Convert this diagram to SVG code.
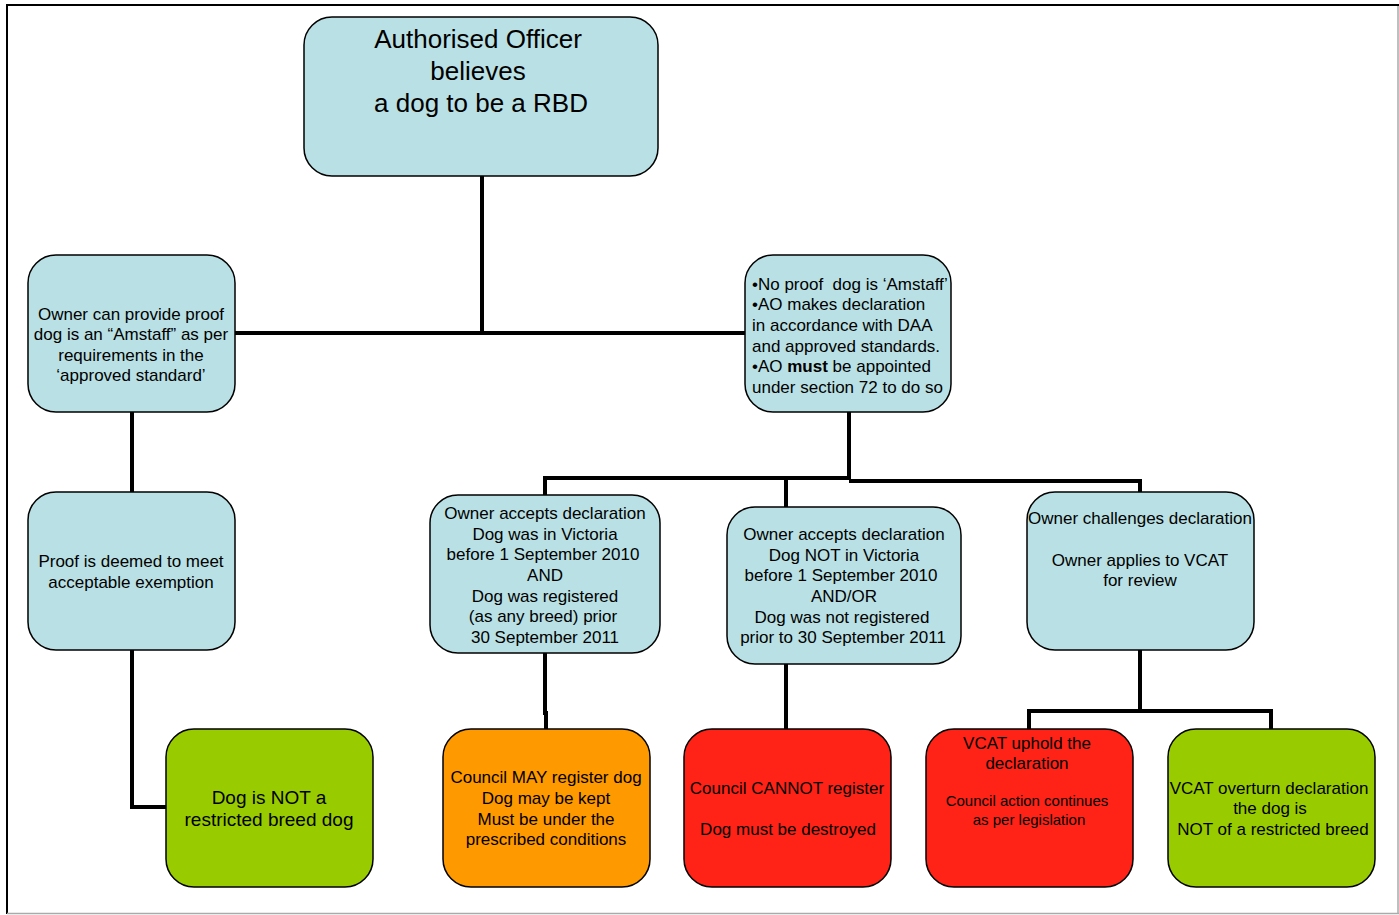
<svg xmlns="http://www.w3.org/2000/svg" width="1399" height="915" viewBox="0 0 1399 915">
<style>
.box{stroke:#000;stroke-width:1.5}
.blue{fill:#b9e0e4}
.green{fill:#99cc00}
.orange{fill:#ff9900}
.red{fill:#ff2317}
text{font-family:"Liberation Sans",Arial,sans-serif;font-size:17px;fill:#000;text-anchor:middle}
.big{font-size:26px}
.mid{font-size:19px}
.small{font-size:15px}
.left{text-anchor:start}
.conn{stroke:#000;stroke-width:4;fill:none;stroke-linejoin:miter}
</style>
<rect width="1399" height="915" fill="#fff"/>
<g id="frame">
<line x1="7" y1="5" x2="1399" y2="5" stroke="#000" stroke-width="2"/>
<line x1="7" y1="4" x2="7" y2="914" stroke="#000" stroke-width="2"/>
<line x1="1398" y1="6" x2="1398" y2="914" stroke="#aaa" stroke-width="1.5"/>
<line x1="7" y1="913.5" x2="1399" y2="913.5" stroke="#aaa" stroke-width="1.5"/>
</g>
<g id="connectors">
<path class="conn" d="M482 176 V333"/>
<path class="conn" d="M235 333 H745"/>
<path class="conn" d="M132 412 V492"/>
<path class="conn" d="M132 650 V807 H166"/>
<path class="conn" d="M849 412 V479"/>
<path class="conn" d="M545 495 V478 H849"/>
<path class="conn" d="M849 481 H1140 V492"/>
<path class="conn" d="M786 478 V507"/>
<path class="conn" d="M545 653 V713 H546 V729"/>
<path class="conn" d="M786 664 V729"/>
<path class="conn" d="M1140 650 V711"/>
<path class="conn" d="M1029 729 V711 H1271 V729"/>
</g>
<g id="n-top">
<rect class="box blue" x="304" y="17" width="354" height="159" rx="28"/>
<text class="big" x="478" y="48">Authorised Officer</text>
<text class="big" x="478" y="80">believes</text>
<text class="big" x="481" y="112">a dog to be a RBD</text>
</g>
<g id="n-proof">
<rect class="box blue" x="28" y="255" width="207" height="157" rx="28"/>
<text x="131" y="320">Owner can provide proof</text>
<text x="131" y="340">dog is an “Amstaff” as per</text>
<text x="131" y="361">requirements in the</text>
<text x="131" y="381">‘approved standard’</text>
</g>
<g id="n-noproof">
<rect class="box blue" x="745" y="255" width="206" height="157" rx="28"/>
<text class="left" x="752" y="290" xml:space="preserve">•No proof  dog is ‘Amstaff’</text>
<text class="left" x="752" y="310">•AO makes declaration</text>
<text class="left" x="752" y="331">in accordance with DAA</text>
<text class="left" x="752" y="352">and approved standards.</text>
<text class="left" x="752" y="372">•AO <tspan font-weight="bold">must</tspan> be appointed</text>
<text class="left" x="752" y="393">under section 72 to do so</text>
</g>
<g id="n-exempt">
<rect class="box blue" x="28" y="492" width="207" height="158" rx="28"/>
<text x="131" y="567">Proof is deemed to meet</text>
<text x="131" y="588">acceptable exemption</text>
</g>
<g id="n-accept1">
<rect class="box blue" x="430" y="495" width="230" height="158" rx="28"/>
<text x="545" y="519">Owner accepts declaration</text>
<text x="545" y="540">Dog was in Victoria</text>
<text x="543" y="560">before 1 September 2010</text>
<text x="545" y="581">AND</text>
<text x="545" y="602">Dog was registered</text>
<text x="543" y="622">(as any breed) prior</text>
<text x="545" y="643">30 September 2011</text>
</g>
<g id="n-accept2">
<rect class="box blue" x="727" y="507" width="234" height="157" rx="28"/>
<text x="844" y="540">Owner accepts declaration</text>
<text x="844" y="561">Dog NOT in Victoria</text>
<text x="841" y="581">before 1 September 2010</text>
<text x="844" y="602">AND/OR</text>
<text x="842" y="623">Dog was not registered</text>
<text x="843" y="643">prior to 30 September 2011</text>
</g>
<g id="n-challenge">
<rect class="box blue" x="1027" y="492" width="227" height="158" rx="28"/>
<text x="1140" y="524">Owner challenges declaration</text>
<text x="1140" y="566">Owner applies to VCAT</text>
<text x="1140" y="586">for review</text>
</g>
<g id="n-notrbd">
<rect class="box green" x="166" y="729" width="207" height="158" rx="28"/>
<text class="mid" x="269" y="804">Dog is NOT a</text>
<text class="mid" x="269" y="826">restricted breed dog</text>
</g>
<g id="n-may">
<rect class="box orange" x="443" y="729" width="207" height="158" rx="28"/>
<text x="546" y="783">Council MAY register dog</text>
<text x="546" y="804">Dog may be kept</text>
<text x="546" y="825">Must be under the</text>
<text x="546" y="845">prescribed conditions</text>
</g>
<g id="n-cannot">
<rect class="box red" x="684" y="729" width="207" height="158" rx="28"/>
<text x="787" y="794">Council CANNOT register</text>
<text x="788" y="835">Dog must be destroyed</text>
</g>
<g id="n-uphold">
<rect class="box red" x="926" y="729" width="207" height="158" rx="28"/>
<text x="1027" y="749">VCAT uphold the</text>
<text x="1027" y="769">declaration</text>
<text class="small" x="1027" y="806">Council action continues</text>
<text class="small" x="1029" y="825">as per legislation</text>
</g>
<g id="n-overturn">
<rect class="box green" x="1168" y="729" width="207" height="158" rx="28"/>
<text x="1269" y="794">VCAT overturn declaration</text>
<text x="1270" y="814">the dog is</text>
<text x="1273" y="835">NOT of a restricted breed</text>
</g>
</svg>
